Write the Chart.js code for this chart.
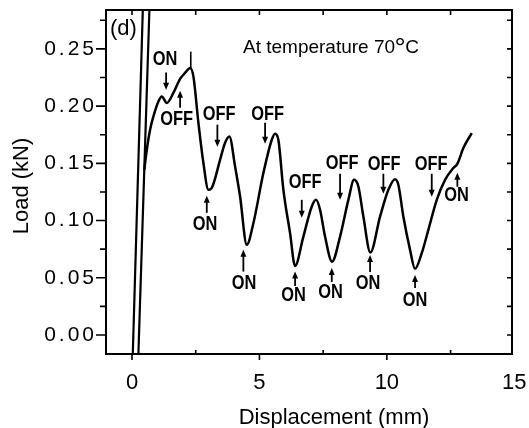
<!DOCTYPE html>
<html><head><meta charset="utf-8">
<script src="https://cdn.jsdelivr.net/npm/chart.js@4/dist/chart.umd.min.js"></script>
<style>html,body{margin:0;padding:0;background:#fff;}canvas{display:block;}</style>
</head><body>
<canvas id="c" width="529" height="428"></canvas>
<script>
// ---------------- data ----------------
const displacement = [0.483,0.581,0.710,0.840,1.036,1.169,1.365,1.624,1.887,2.083,2.279,2.409,2.605,2.801,2.997,3.131,3.456,3.652,3.821,4.045,4.241,4.504,4.763,5.155,5.485,5.614,5.743,5.940,6.202,6.398,6.724,7.054,7.223,7.379,7.575,7.850,8.164,8.490,8.713,8.882,9.078,9.353,9.733,10.059,10.322,10.451,10.647,10.910,11.106,11.369,11.628,11.958,12.283,12.609,12.766,13.001,13.331];
const load = [0.1444,0.1619,0.1794,0.1910,0.2041,0.2085,0.2028,0.2115,0.2238,0.2290,0.2334,0.2260,0.1855,0.1505,0.1269,0.1286,0.1531,0.1680,0.1735,0.1473,0.1210,0.0788,0.0977,0.1415,0.1706,0.1759,0.1706,0.1269,0.0890,0.0604,0.0860,0.1123,0.1181,0.1094,0.0860,0.0641,0.0860,0.1181,0.1356,0.1298,0.1035,0.0722,0.1035,0.1269,0.1362,0.1313,0.1035,0.0744,0.0578,0.0715,0.0919,0.1181,0.1356,0.1459,0.1496,0.1634,0.1765];
const elastic1X = [0.031, 0.424];
const elastic1Y = [-0.0166, 0.284];
const elastic2X = [0.251, 0.683];
const elastic2Y = [-0.0166, 0.284];
const peakMarkX = [2.306, 2.306];
const peakMarkY = [0.2331, 0.2476];

const xTickValues = [0, 5, 10, 15];
const xTickLabels = ['0', '5', '10', '15'];
const xMinorTicks = [2.5, 7.5, 12.5];
const yTickValues = [0, 0.05, 0.10, 0.15, 0.20, 0.25];
const yTickLabels = ['0.00', '0.05', '0.10', '0.15', '0.20', '0.25'];
const yMinorTicks = [0.025, 0.075, 0.125, 0.175, 0.225, 0.275];

const noteLabels = ['ON','OFF','OFF','ON','OFF','ON','OFF','ON','ON','OFF','ON','OFF','ON','OFF','ON'];
const noteX      = [1.299,1.750,3.417,2.868,5.320,4.398,6.791,6.340,7.791,8.243,9.262,9.890,11.106,11.734,12.734];
const noteY      = [0.2411,0.1886,0.1929,0.0963,0.1929,0.0451,0.1334,0.0346,0.0368,0.1501,0.0446,0.1492,0.0302,0.1492,0.1221];
const arrowX     = [1.338,1.887,3.350,2.934,5.222,4.370,6.661,6.399,7.838,8.164,9.341,9.863,11.106,11.761,12.766];
const arrowFrom  = [0.2293,0.1986,0.1838,0.1068,0.1855,0.0554,0.1181,0.0429,0.0464,0.1409,0.0551,0.1409,0.0411,0.1409,0.1295];
const arrowTo    = [0.2144,0.2135,0.1645,0.1216,0.1671,0.0744,0.1024,0.0554,0.0586,0.1181,0.0700,0.1234,0.0525,0.1208,0.1418];

const xAxisTitle = 'Displacement (mm)';
const yAxisTitle = 'Load (kN)';
const panelTag = '(d)';
const noteText = 'At temperature 70';
// ----------------------------------------------------------------

const pts = (xs, ys) => xs.map((x, i) => ({x, y: ys[i]}));
const SANS = '"Liberation Sans", Arial, sans-serif';

// spaced-out y tick labels, as in the typewriter-style original
const spacedYLabels = {
  id: 'spacedYLabels',
  beforeDraw(chart) {
    const s = chart.scales.y;
    if (s._spaced) return;
    const orig = s.drawLabels;
    s.drawLabels = function (area) {
      const ctx = this.ctx;
      ctx.save();
      ctx.letterSpacing = '3px';
      orig.call(this, area);
      ctx.restore();
    };
    s._spaced = true;
  }
};

const decor = {
  id: 'decor',
  afterDatasetsDraw(chart) {
    const {ctx, chartArea: a, scales: {x, y}} = chart;
    ctx.save();
    // frame
    ctx.strokeStyle = '#000';
    ctx.lineWidth = 2;
    ctx.strokeRect(a.left, a.top, a.right - a.left, a.bottom - a.top);
    // tick marks
    ctx.lineWidth = 1.6;
    ctx.beginPath();
    yTickValues.forEach(v => { const p = y.getPixelForValue(v); ctx.moveTo(a.left - 10, p); ctx.lineTo(a.left, p); });
    yMinorTicks.forEach(v => { const p = y.getPixelForValue(v); ctx.moveTo(a.left - 6, p); ctx.lineTo(a.left, p); });
    yTickValues.concat(yMinorTicks).forEach(v => { const p = y.getPixelForValue(v); ctx.moveTo(a.right - 5, p); ctx.lineTo(a.right, p); });
    xTickValues.forEach(v => { if (v > x.max) return; const p = x.getPixelForValue(v); ctx.moveTo(p, a.bottom); ctx.lineTo(p, a.bottom + 6); });
    xMinorTicks.forEach(v => { const p = x.getPixelForValue(v); ctx.moveTo(p, a.bottom); ctx.lineTo(p, a.bottom - 4); });
    xTickValues.concat(xMinorTicks).forEach(v => { if (v > x.max) return; const p = x.getPixelForValue(v); ctx.moveTo(p, a.top); ctx.lineTo(p, a.top + 5); });
    ctx.stroke();

    // ON / OFF annotations
    ctx.fillStyle = '#000';
    ctx.textAlign = 'center';
    ctx.textBaseline = 'middle';
    noteLabels.forEach((t, i) => {
      const px = x.getPixelForValue(noteX[i]), py = y.getPixelForValue(noteY[i]);
      ctx.save();
      ctx.translate(px, py);
      ctx.scale(0.82, 1);
      ctx.font = 'bold 20px ' + SANS;
      ctx.fillText(t, 0, 0);
      ctx.restore();
      const ax = x.getPixelForValue(arrowX[i]);
      const y0 = y.getPixelForValue(arrowFrom[i]), y1 = y.getPixelForValue(arrowTo[i]);
      const dir = y1 > y0 ? 1 : -1;
      ctx.lineWidth = 1.8;
      ctx.beginPath();
      ctx.moveTo(ax, y0);
      ctx.lineTo(ax, y1 - dir * 5);
      ctx.stroke();
      ctx.beginPath();
      ctx.moveTo(ax, y1);
      ctx.lineTo(ax - 3, y1 - dir * 7);
      ctx.lineTo(ax + 3, y1 - dir * 7);
      ctx.closePath();
      ctx.fill();
    });

    // panel tag and temperature note
    ctx.textAlign = 'left';
    ctx.textBaseline = 'alphabetic';
    ctx.font = '22px ' + SANS;
    ctx.fillText(panelTag, a.left + 4, a.top + 25);
    ctx.font = '19px ' + SANS;
    const nx = a.left + 137, ny = a.top + 43;
    ctx.fillText(noteText, nx, ny);
    let w = ctx.measureText(noteText).width;
    ctx.font = '28px ' + SANS;
    ctx.fillText('\u00B0', nx + w - 0.5, ny + 4);
    w += ctx.measureText('\u00B0').width - 1;
    ctx.font = '19px ' + SANS;
    ctx.fillText('C', nx + w, ny);

    // axis titles
    ctx.font = '22px ' + SANS;
    ctx.textAlign = 'center';
    ctx.fillText(xAxisTitle, 334, chart.height - 4);
    ctx.save();
    ctx.translate(28, 186);
    ctx.rotate(-Math.PI / 2);
    ctx.fillText(yAxisTitle, 0, 0);
    ctx.restore();
    ctx.restore();
  }
};

new Chart(document.getElementById('c'), {
  type: 'scatter',
  data: {
    datasets: [
      {data: pts(displacement, load), showLine: true, borderColor: '#000', borderWidth: 2.5, pointRadius: 0, cubicInterpolationMode: 'monotone', fill: false},
      {data: pts(elastic1X, elastic1Y), showLine: true, borderColor: '#000', borderWidth: 2.2, pointRadius: 0, tension: 0},
      {data: pts(elastic2X, elastic2Y), showLine: true, borderColor: '#000', borderWidth: 2.2, pointRadius: 0, tension: 0},
      {data: pts(peakMarkX, peakMarkY), showLine: true, borderColor: '#000', borderWidth: 1.6, pointRadius: 0, tension: 0}
    ]
  },
  options: {
    responsive: false,
    animation: false,
    devicePixelRatio: 1,
    layout: {padding: {top: 10, right: 17, left: 0, bottom: 0}},
    plugins: {legend: {display: false}, tooltip: {enabled: false}},
    scales: {
      x: {
        type: 'linear', min: -1.02, max: 14.91,
        afterBuildTicks: s => { s.ticks = xTickValues.map(v => ({value: v})); },
        afterFit: s => { s.height = 74; s.paddingLeft = 0; s.paddingRight = 0; },
        grid: {display: false, drawTicks: false},
        border: {display: false},
        ticks: {autoSkip: false, maxRotation: 0, padding: 16, color: '#000',
          font: {family: SANS, size: 22},
          callback: (v, i) => xTickLabels[i]}
      },
      y: {
        type: 'linear', min: -0.0166, max: 0.284,
        afterBuildTicks: s => { s.ticks = yTickValues.map(v => ({value: v})); },
        afterFit: s => { s.width = 106; s.paddingTop = 0; s.paddingBottom = 0; },
        grid: {display: false, drawTicks: false},
        border: {display: false},
        ticks: {autoSkip: false, padding: 9, color: '#000',
          font: {family: SANS, size: 21},
          callback: (v, i) => yTickLabels[i]}
      }
    }
  },
  plugins: [spacedYLabels, decor]
});
</script>
</body></html>
